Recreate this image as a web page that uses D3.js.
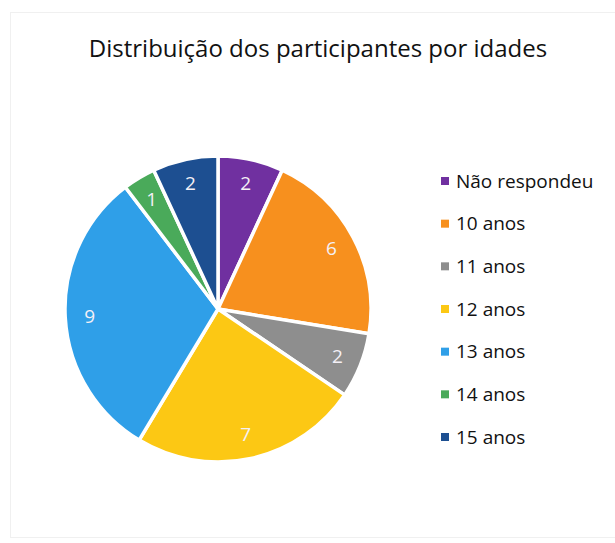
<html>
    <head>
        <style>
            body { margin: 0; background: #fff; }
            text { font-family: "Open Sans", "Noto Sans", sans-serif; }
        </style>
        <script src="https://d3js.org/d3.v7.min.js"></script>
    </head>
    <body>
        <svg width="615" height="543"></svg>
        <script>
            // data
            let categories = ["Não respondeu", "10 anos", "11 anos", "12 anos", "13 anos", "14 anos", "15 anos"]
            let counts = [2, 6, 2, 7, 9, 1, 2]
            let colors = ["#7030a0", "#f7901e", "#8e8e8e", "#fcc814", "#2f9fe8", "#4aaa5a", "#1d4f91"]

            let svg = d3.select("svg")

            // faint chart frame
            svg.append("rect")
               .attr("x", 10.5).attr("y", 12.5)
               .attr("width", 640).attr("height", 525)
               .attr("fill", "none")
               .attr("stroke", "#f0f0f0")

            svg.append("text")
               .attr("x", 318)
               .attr("y", 57)
               .attr("text-anchor", "middle")
               .attr("font-size", "24px")
               .attr("fill", "#111")
               .text("Distribuição dos participantes por idades")

            let data = categories.map(function(c, i) { return {name: c, value: counts[i]} })

            let color = d3.scaleOrdinal().domain(categories).range(colors)
            let pie = d3.pie().sort(null).value(function(d) { return d.value })
            let radius = 153
            let arc = d3.arc().innerRadius(0).outerRadius(radius)
            let labelArc = d3.arc().innerRadius(radius * 0.84).outerRadius(radius * 0.84)

            let g = svg.append("g").attr("transform", "translate(218,309)")

            let slices = g.selectAll(".slice")
                .data(pie(data))
                .enter().append("g")
                .attr("class", "slice")

            slices.append("path")
                .attr("d", arc)
                .attr("fill", function(d) { return color(d.data.name) })
                .attr("stroke", "#fff")
                .attr("stroke-width", 3.5)
                .attr("stroke-linejoin", "round")

            slices.append("text")
                .attr("transform", function(d) { return "translate(" + labelArc.centroid(d) + ")" })
                .attr("dy", "0.35em")
                .attr("text-anchor", "middle")
                .attr("font-size", "19px")
                .attr("fill", "#f4f0f6")
                .text(function(d) { return d.data.value })

            // legend
            let legendY = d3.scalePoint().domain(categories).range([181, 437])
            let legend = svg.append("g")

            let item = legend.selectAll(".item")
                .data(categories)
                .enter().append("g")
                .attr("class", "item")
                .attr("transform", function(d) { return "translate(441," + legendY(d) + ")" })

            item.append("rect")
                .attr("x", 0).attr("y", -4)
                .attr("width", 8).attr("height", 8)
                .attr("fill", function(d) { return color(d) })

            item.append("text")
                .attr("x", 15)
                .attr("dy", "0.35em")
                .attr("font-size", "19px")
                .attr("fill", "#111")
                .text(function(d) { return d })
        </script>
    </body>
</html>
